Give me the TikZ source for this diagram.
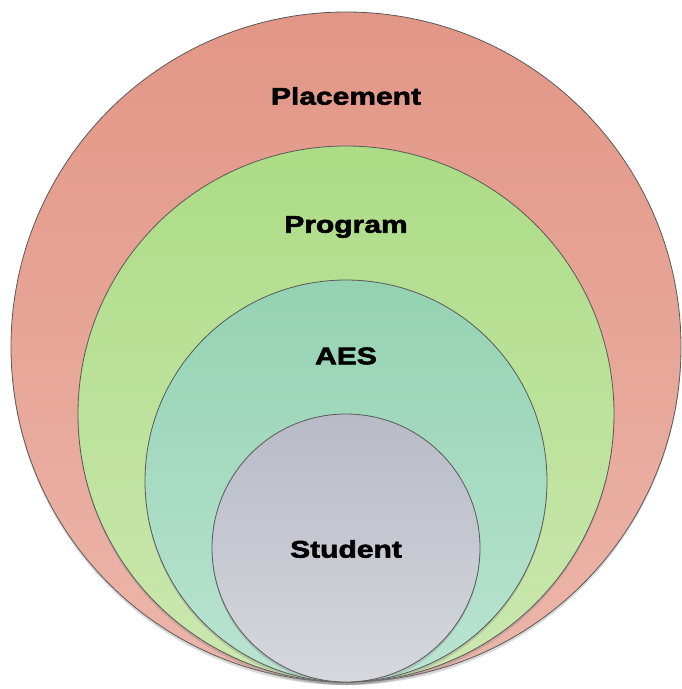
\documentclass[tikz,border=0pt]{standalone}
\usepackage{fontspec}
\usepackage{xcolor}
\usetikzlibrary{shadows}
\newfontfamily\labelfont[FakeStretch=1.25,FakeBold=2.5]{Liberation Sans}
\definecolor{placetop}{RGB}{226,150,134}
\definecolor{placebot}{RGB}{236,182,170}
\definecolor{progtop}{RGB}{172,220,134}
\definecolor{progbot}{RGB}{204,232,176}
\definecolor{aestop}{RGB}{148,210,178}
\definecolor{aesbot}{RGB}{186,228,210}
\definecolor{studtop}{RGB}{184,186,198}
\definecolor{studbot}{RGB}{214,216,222}

\tikzset{
  ring/.style={draw=black!65, line width=0.8pt,
    drop shadow={opacity=0.3, shadow xshift=0pt, shadow yshift=-3pt}},
  ringlabel/.style={font=\labelfont\bfseries\fontsize{24}{28}\selectfont, text=black}
}

\begin{document}
\begin{tikzpicture}[x=1pt, y=-1pt]
    \useasboundingbox (0,0) rectangle (682,689);

    % Placement (outer)
    \draw[ring, top color=placetop, bottom color=placebot] (346,347) circle (335);
    \node[ringlabel] (placement) at (346,96) {Placement};

    % Program
    \draw[ring, top color=progtop, bottom color=progbot] (346,414) circle (268);
    \node[ringlabel] (program) at (346,227) {Program};

    % AES
    \draw[ring, top color=aestop, bottom color=aesbot] (346,481) circle (201);
    \node[ringlabel] (aes) at (346,356) {AES};

    % Student (inner)
    \draw[ring, top color=studtop, bottom color=studbot] (346,548) circle (134);
    \node[ringlabel] (student) at (346,549) {Student};
\end{tikzpicture}
\end{document}
